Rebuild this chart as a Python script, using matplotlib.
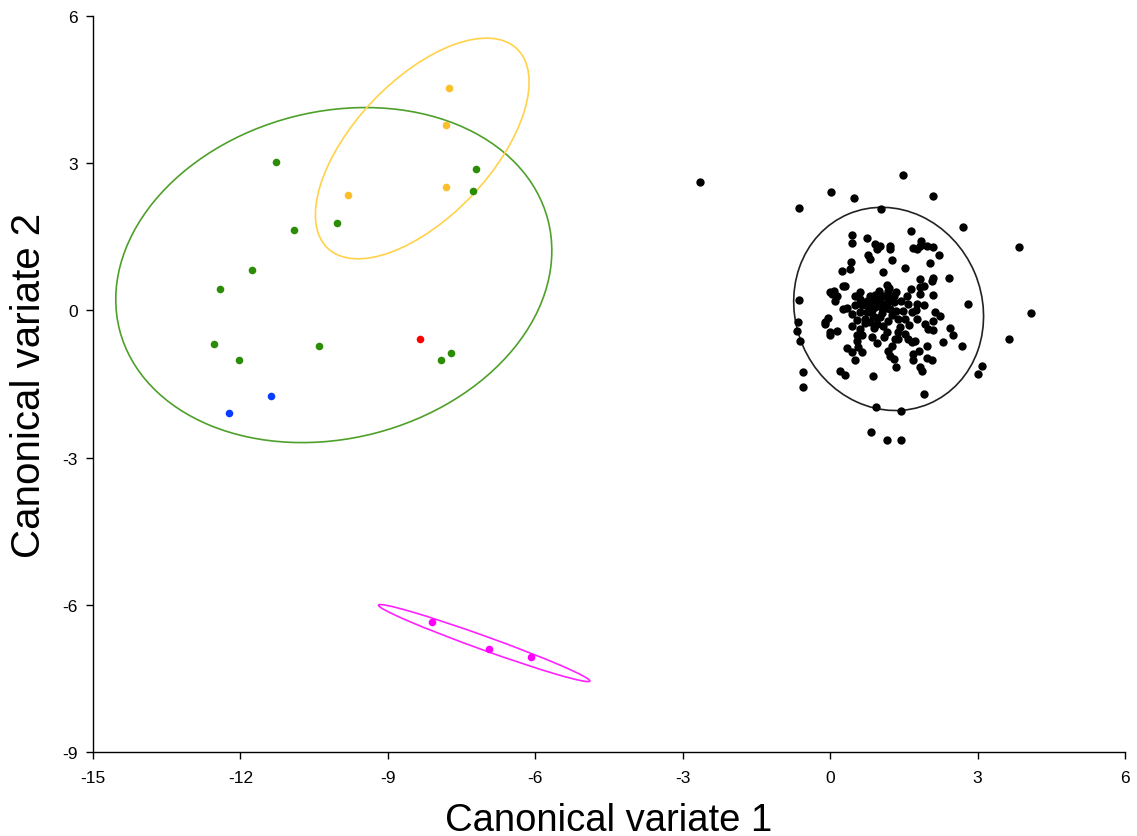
import matplotlib
matplotlib.use("Agg")
import matplotlib.pyplot as plt
from matplotlib.patches import Ellipse

plt.rcParams['font.family'] = ['Liberation Sans Narrow', 'Liberation Sans', 'DejaVu Sans']
plt.rcParams['axes.unicode_minus'] = False

# ---- data ----
green_x = [-11.28, -7.21, -7.27, -10.03, -10.92, -11.77, -12.42, -12.54, -12.02, -10.41, -7.92, -7.71]
green_y = [3.02, 2.88, 2.44, 1.78, 1.64, 0.82, 0.44, -0.69, -1.02, -0.73, -1.01, -0.87]
orange_x = [-7.76, -7.82, -7.82, -9.82]
orange_y = [4.54, 3.77, 2.51, 2.35]
red_x = [-8.34]
red_y = [-0.58]
blue_x = [-11.37, -12.24]
blue_y = [-1.74, -2.10]
magenta_x = [-8.10, -6.94, -6.08]
magenta_y = [-6.36, -6.91, -7.06]

black_x = [1.49, 0.01, 0.49, 2.09, -0.63, 1.03, 2.71, 3.84, 4.08, 3.63, 2.81, 2.41, 2.68, 3.10, 3.01,
           1.91, 0.93, 1.44, 0.83, 1.15, 1.44, -0.56, -0.56, 0.88, 0.20, 0.30, -0.63, -0.65, -0.68, -0.61,
           0.00, 0.13, -0.10, -0.04, 0.51, 0.95, 1.65, 0.44, 0.44, 0.74, 0.91, 0.95, 1.02, 1.22, 1.22,
           0.78, 0.81, 1.25, 1.84, 1.76, 1.68, 1.97, 2.09, 2.22, 1.83, 0.42, 0.40, 0.24, 1.07, 1.52,
           2.03, 2.10, 2.07, 1.83, 1.90, 1.65, 0.30, 0.07, 0.03, 0.13, 1.16, 1.18, 1.35, 0.51, 0.61,
           0.81, 0.91, 1.02, 1.10, 0.88, 1.02, 1.15, 1.29, 0.74, 0.64, 0.78, 0.91, 1.05, 1.22, 1.35,
           0.34, 0.44, 0.61, 0.74, 0.88, 1.02, 0.71, 0.81, 0.95, 1.08, 1.18, 1.49, 1.59, 1.76, 1.91,
           1.82, 2.09, 1.83, 1.66, 1.76, 1.52, 2.13, 2.24, 2.10, 1.93, 2.00, 2.10, 2.43, 2.49, 2.29,
           1.97, 1.80, 1.69, 1.68, 1.83, 1.86, 1.97, 2.07, 1.59, 1.52, 1.39, 1.32, 1.25, 1.18, 1.22,
           1.29, 1.35, 1.42, 0.61, 0.54, 0.54, 0.57, 0.64, 0.34, 0.44, 0.44, 0.00, 1.66, 1.73, 1.39,
           1.56, 0.98, 1.22, 0.27, 0.61, 1.39, 1.15, -2.65,
           0.75, 0.85, 0.95, 1.05, 1.15, 1.25, 0.70, 0.90, 1.00, 1.30, 0.65, 0.55, 1.45, 1.10, 0.50,
           1.20, 0.85, 1.60, 1.75, 0.95, 0.00, 0.10, 0.26, -0.10]
black_y = [2.76, 2.41, 2.30, 2.34, 2.08, 2.07, 1.69, 1.29, -0.06, -0.59, 0.14, 0.66, -0.73, -1.13, -1.30,
           -1.70, -1.97, -2.06, -2.47, -2.65, -2.64, -1.25, -1.57, -1.34, -1.24, -1.31, 0.22, -0.24, -0.41, -0.63,
           -0.50, -0.41, -0.28, -0.16, -1.02, -0.67, 1.62, 1.54, 1.37, 1.48, 1.35, 1.25, 1.31, 1.31, 1.25,
           1.12, 1.05, 1.03, 1.41, 1.25, 1.27, 1.31, 1.29, 1.12, 1.32, 0.98, 0.84, 0.81, 0.79, 0.86,
           0.97, 0.67, 0.59, 0.64, 0.50, 0.44, 0.50, 0.40, 0.33, 0.29, 0.52, 0.40, 0.38, 0.29, 0.23,
           0.30, 0.31, 0.31, 0.29, 0.20, 0.17, 0.15, 0.17, 0.13, 0.10, 0.06, 0.06, 0.04, 0.03, -0.01,
           0.05, -0.07, -0.04, -0.04, -0.11, -0.14, -0.17, -0.24, -0.28, -0.31, -0.21, -0.01, 0.13, 0.13, 0.11,
           0.33, 0.31, 0.47, -0.04, -0.17, -0.17, -0.04, -0.11, -0.21, -0.28, -0.38, -0.40, -0.36, -0.51, -0.64,
           -0.72, -0.82, -0.89, -1.02, -1.16, -1.24, -0.98, -1.02, -0.58, -0.48, -0.45, -0.58, -0.72, -0.82, -0.92,
           -0.99, -1.16, -0.34, -0.38, -0.51, -0.62, -0.75, -0.84, -0.77, -0.84, -0.31, -0.45, -0.65, -0.62, -0.58,
           0.30, 0.23, 0.27, 0.03, 0.37, -0.17, -0.45, 2.62,
           0.20, 0.00, 0.15, -0.05, 0.05, -0.10, -0.25, -0.35, 0.40, 0.30, -0.50, -0.20, 0.20, -0.55, 0.10,
           0.45, -0.55, -0.30, 0.00, -0.15, 0.38, 0.19, 0.50, -0.24]

# ellipses: center x, center y, full width, full height, angle (deg)
ell_cx = [-10.10, -8.30, -7.04, 1.19]
ell_cy = [0.72, 3.30, -6.78, 0.03]
ell_w = [9.00, 5.60, 4.57, 4.20]
ell_h = [6.66, 2.79, 0.28, 3.80]
ell_ang = [14.4, 46.6, -19.8, 113.0]
ell_col = ['#4ea02a', '#ffd24a', '#ff22ff', '#222222']

x_ticks = [-15, -12, -9, -6, -3, 0, 3, 6]
y_ticks = [-9, -6, -3, 0, 3, 6]

# ---- plot ----
fig = plt.figure(figsize=(11.37, 8.37), dpi=100)
ax = fig.add_axes([93/1137, 1 - 753/837, (1125-93)/1137, (753-17)/837])

for cx, cy, w, h, a, c in zip(ell_cx, ell_cy, ell_w, ell_h, ell_ang, ell_col):
    ax.add_patch(Ellipse((cx, cy), w, h, angle=a, fill=False, edgecolor=c, lw=1.2))

ax.scatter(black_x, black_y, s=36, color='black', linewidths=0, zorder=3)
ms = 30
ax.scatter(green_x, green_y, s=ms, color='#2b8c06', linewidths=0, zorder=3)
ax.scatter(orange_x, orange_y, s=ms, color='#fbbf2a', linewidths=0, zorder=3)
ax.scatter(red_x, red_y, s=ms, color='#ff0000', linewidths=0, zorder=3)
ax.scatter(blue_x, blue_y, s=ms, color='#0a3cff', linewidths=0, zorder=3)
ax.scatter(magenta_x, magenta_y, s=ms, color='#ff00ff', linewidths=0, zorder=3)

ax.set_xlim(-15, 6)
ax.set_ylim(-9, 6)
ax.set_xticks(x_ticks)
ax.set_yticks(y_ticks)
ax.set_xticklabels([str(t) for t in x_ticks])
ax.set_yticklabels([str(t) for t in y_ticks])
for s in ['top', 'right']:
    ax.spines[s].set_visible(False)
for s in ['left', 'bottom']:
    ax.spines[s].set_linewidth(1.0)
ax.tick_params(direction='out', length=5, width=1, labelsize=12.5)
ax.tick_params(axis='x', pad=8)
ax.tick_params(axis='y', pad=6)

ax.set_xlabel('Canonical variate 1', fontsize=27.5, labelpad=12,
              family=['Liberation Sans', 'DejaVu Sans'])
ax.set_ylabel('Canonical variate 2', fontsize=29, labelpad=10,
              family=['Liberation Sans', 'DejaVu Sans'])

fig.savefig('out.png', dpi=100)
